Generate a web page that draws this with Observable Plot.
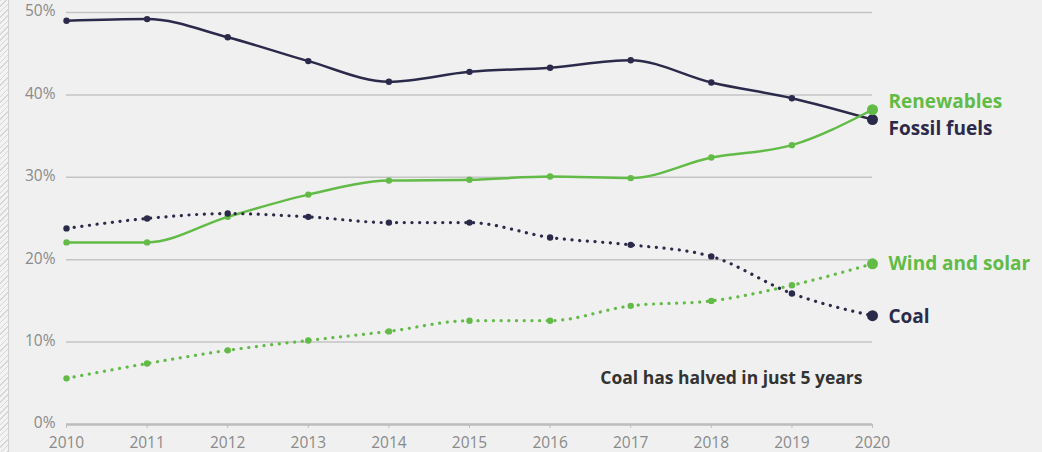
<!DOCTYPE html>
<html>
<head>
<meta charset="utf-8">
<script src="https://cdn.jsdelivr.net/npm/d3@7"></script>
<script src="https://cdn.jsdelivr.net/npm/@observablehq/plot@0.6"></script>
<style>
  html, body { margin: 0; padding: 0; background: #f0f0f0; }
  #wrap { position: relative; width: 1042px; height: 452px; overflow: hidden; background: #f0f0f0; }
  #hatch { position: absolute; left: 0; top: 0; width: 8px; height: 452px;
    background: repeating-linear-gradient(135deg, #d6d6d6 0 1px, #f3f3f3 1px 4px);
    border-right: 1px solid #d0d0d0; }
  #chart { position: absolute; left: 0; top: 0; }
  svg { font-family: "Open Sans", Lato, sans-serif; }
</style>
</head>
<body>
<div id="wrap"><div id="hatch"></div><div id="chart"></div></div>
<script>
const years = [2010, 2011, 2012, 2013, 2014, 2015, 2016, 2017, 2018, 2019, 2020];
const fossilFuels = [49.0, 49.2, 47.0, 44.1, 41.6, 42.8, 43.3, 44.2, 41.5, 39.6, 37.0];
const renewables = [22.1, 22.1, 25.2, 27.9, 29.6, 29.7, 30.1, 29.9, 32.4, 33.9, 38.2];
const coal = [23.8, 25.0, 25.6, 25.2, 24.5, 24.5, 22.7, 21.8, 20.4, 15.9, 13.2];
const windSolar = [5.6, 7.4, 9.0, 10.2, 11.3, 12.6, 12.6, 14.4, 15.0, 16.9, 19.5];
const yTicks = [0, 10, 20, 30, 40, 50];
const annotation = "Coal has halved in just 5 years";
const annotationY = 5.6;

const NAVY = "#2c2a4a";
const GREEN = "#62bb46";

const seriesDefs = [
  {name: "Fossil fuels", values: fossilFuels, color: NAVY, dotted: false, dy: 9},
  {name: "Renewables", values: renewables, color: GREEN, dotted: false, dy: -8},
  {name: "Coal", values: coal, color: NAVY, dotted: true, dy: 1},
  {name: "Wind and solar", values: windSolar, color: GREEN, dotted: true, dy: 0}
];
const rows = seriesDefs.flatMap(s => years.map((y, i) => ({series: s.name, year: y, value: s.values[i]})));
const lasts = seriesDefs.map(s => ({series: s.name, year: years[years.length - 1], value: s.values[s.values.length - 1], color: s.color, dy: s.dy}));

const marks = [
  Plot.ruleY(yTicks.filter(d => d > 0), {stroke: "#c4c4c4", strokeWidth: 1.5}),
  Plot.ruleY([0], {stroke: "#bdbdbd", strokeWidth: 2.5}),
  Plot.axisX({ticks: years, tickFormat: d => String(d), tickSize: 4, tickPadding: 8, stroke: "#bdbdbd", color: "#8a8a8a", fontSize: 15.5, label: null}),
  Plot.axisY({ticks: yTicks, tickFormat: d => d + "%", tickSize: 0, tickPadding: 11, dy: -1, color: "#8a8a8a", fontSize: 15.5, label: null})
];
for (const s of seriesDefs) {
  const data = rows.filter(r => r.series === s.name);
  marks.push(Plot.line(data, {x: "year", y: "value", stroke: s.color, strokeWidth: s.dotted ? 3.2 : 2.5, curve: "monotone-x",
    strokeDasharray: s.dotted ? "0.1,7.6" : null, strokeLinecap: s.dotted ? "round" : null}));
  marks.push(Plot.dot(data.slice(0, -1), {x: "year", y: "value", fill: s.color, r: 3.2}));
  marks.push(Plot.dot(data.slice(-1), {x: "year", y: "value", fill: s.color, r: 5.5}));
}
for (const l of lasts) {
  marks.push(Plot.text([l], {x: "year", y: "value", text: "series", fill: l.color, dx: 16, dy: l.dy, textAnchor: "start", fontSize: 19, fontWeight: "bold"}));
}
marks.push(Plot.text([annotation], {x: years[years.length - 1], y: annotationY, text: d => d, dx: -10, textAnchor: "end", fill: "#333333", fontSize: 17.5, fontWeight: "bold"}));

const chart = Plot.plot({
  width: 1042,
  height: 452,
  marginLeft: 66,
  marginRight: 170,
  marginTop: 12,
  marginBottom: 28,
  style: {background: "transparent", fontFamily: "'Open Sans', Lato, sans-serif"},
  x: {domain: [2010, 2020]},
  y: {domain: [0, 50]},
  marks
});
document.getElementById("chart").appendChild(chart);
</script>
</body>
</html>
